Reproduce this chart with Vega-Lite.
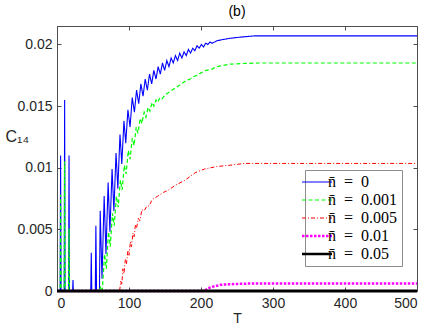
{
  "$schema": "https://vega.github.io/schema/vega-lite/v6.json",
  "width": 360,
  "height": 265,
  "autosize": {"type": "none"},
  "padding": {"left": 57, "top": 26, "right": 19, "bottom": 37},
  "background": "white",
  "title": {"text": "(b)", "fontSize": 14, "font": "Liberation Sans", "fontWeight": "normal", "offset": 7, "color": "#000000"},
  "config": {
    "view": {"stroke": "#4d4d4d", "strokeWidth": 1},
    "font": "Liberation Sans"
  },
  "data": {"values": [
    {"n":"0","T":0,"C":0},{"n":"0","T":4.4,"C":0},{"n":"0","T":5,"C":0.011},{"n":"0","T":5.6,"C":0},
    {"n":"0","T":10,"C":0},{"n":"0","T":10.6,"C":0.0155},{"n":"0","T":11.2,"C":0},
    {"n":"0","T":16.1,"C":0},{"n":"0","T":16.7,"C":0.011},{"n":"0","T":17.3,"C":0},
    {"n":"0","T":21.7,"C":0},{"n":"0","T":22.2,"C":0.0009},{"n":"0","T":22.7,"C":0},
    {"n":"0","T":46.9,"C":0},{"n":"0","T":47.6,"C":0.0031},{"n":"0","T":48.3,"C":0},
    {"n":"0","T":53.2,"C":0},{"n":"0","T":54,"C":0.0053},{"n":"0","T":54.9,"C":0},
    {"n":"0","T":59,"C":0},{"n":"0","T":60,"C":0.0065},{"n":"0","T":62.5,"C":0.001},
    {"n":"0","T":65.5,"C":0.0077},{"n":"0","T":68,"C":0.003},
    {"n":"0","T":71,"C":0.0088},{"n":"0","T":73.5,"C":0.0048},
    {"n":"0","T":76.5,"C":0.0099},{"n":"0","T":79,"C":0.0065},
    {"n":"0","T":82,"C":0.0112},{"n":"0","T":84.5,"C":0.0083},
    {"n":"0","T":87.5,"C":0.0127},{"n":"0","T":90,"C":0.0103},
    {"n":"0","T":93,"C":0.0138},{"n":"0","T":95.5,"C":0.012},
    {"n":"0","T":98.5,"C":0.0147},{"n":"0","T":101.5,"C":0.0133},
    {"n":"0","T":104.5,"C":0.0157},{"n":"0","T":107.5,"C":0.0145},
    {"n":"0","T":110.5,"C":0.0163},{"n":"0","T":113.5,"C":0.0152},
    {"n":"0","T":116.5,"C":0.0168},{"n":"0","T":119.5,"C":0.0158},
    {"n":"0","T":122.5,"C":0.0172},{"n":"0","T":125.5,"C":0.0163},
    {"n":"0","T":128.5,"C":0.0176},{"n":"0","T":131.5,"C":0.0168},
    {"n":"0","T":134.5,"C":0.0179},{"n":"0","T":137.5,"C":0.0172},
    {"n":"0","T":140.5,"C":0.0182},{"n":"0","T":143.5,"C":0.0176},
    {"n":"0","T":146.5,"C":0.0185},{"n":"0","T":149.5,"C":0.0179},
    {"n":"0","T":152.5,"C":0.0187},{"n":"0","T":155.5,"C":0.0182},
    {"n":"0","T":158.5,"C":0.0189},{"n":"0","T":161.5,"C":0.0185},
    {"n":"0","T":164.5,"C":0.0191},{"n":"0","T":167.5,"C":0.0187},
    {"n":"0","T":170.5,"C":0.0193},{"n":"0","T":173.5,"C":0.0189},
    {"n":"0","T":176.5,"C":0.0194},{"n":"0","T":179.5,"C":0.0191},
    {"n":"0","T":182.5,"C":0.0196},{"n":"0","T":185.5,"C":0.0193},
    {"n":"0","T":188.5,"C":0.0197},{"n":"0","T":191.5,"C":0.0195},
    {"n":"0","T":194.5,"C":0.0199},{"n":"0","T":197.5,"C":0.0197},
    {"n":"0","T":200.5,"C":0.02},{"n":"0","T":203.5,"C":0.0198},
    {"n":"0","T":206.5,"C":0.0201},{"n":"0","T":209.5,"C":0.02},
    {"n":"0","T":212.5,"C":0.0202},{"n":"0","T":215.5,"C":0.0201},
    {"n":"0","T":222,"C":0.0203},{"n":"0","T":230,"C":0.0204},{"n":"0","T":240,"C":0.0205},
    {"n":"0","T":255,"C":0.0206},{"n":"0","T":275,"C":0.0207},{"n":"0","T":500,"C":0.0207},

    {"n":"0.001","T":0,"C":0},{"n":"0.001","T":4.4,"C":0},{"n":"0.001","T":5,"C":0.0078},{"n":"0.001","T":5.6,"C":0},
    {"n":"0.001","T":10,"C":0},{"n":"0.001","T":10.6,"C":0.0105},{"n":"0.001","T":11.2,"C":0},
    {"n":"0.001","T":16.1,"C":0},{"n":"0.001","T":16.7,"C":0.0051},{"n":"0.001","T":17.3,"C":0},
    {"n":"0.001","T":59,"C":0},{"n":"0.001","T":61,"C":0.0004},{"n":"0.001","T":63,"C":0.0001},
    {"n":"0.001","T":66,"C":0.003},{"n":"0.001","T":68.5,"C":0.0018},
    {"n":"0.001","T":71.5,"C":0.0048},{"n":"0.001","T":74,"C":0.0036},
    {"n":"0.001","T":77,"C":0.0063},{"n":"0.001","T":79.5,"C":0.0053},
    {"n":"0.001","T":82.5,"C":0.0077},{"n":"0.001","T":85,"C":0.0068},
    {"n":"0.001","T":88,"C":0.009},{"n":"0.001","T":90.5,"C":0.0082},
    {"n":"0.001","T":93.5,"C":0.0102},{"n":"0.001","T":96,"C":0.0095},
    {"n":"0.001","T":99,"C":0.0114},{"n":"0.001","T":101.5,"C":0.0107},
    {"n":"0.001","T":104.5,"C":0.0124},{"n":"0.001","T":107,"C":0.0118},
    {"n":"0.001","T":110,"C":0.0133},{"n":"0.001","T":112.5,"C":0.0128},
    {"n":"0.001","T":115.5,"C":0.014},{"n":"0.001","T":118,"C":0.0136},
    {"n":"0.001","T":121,"C":0.0145},{"n":"0.001","T":123.5,"C":0.0141},
    {"n":"0.001","T":126.5,"C":0.0149},{"n":"0.001","T":129,"C":0.0146},
    {"n":"0.001","T":132,"C":0.0153},{"n":"0.001","T":134.5,"C":0.015},
    {"n":"0.001","T":137.5,"C":0.0155},{"n":"0.001","T":140,"C":0.0153},
    {"n":"0.001","T":143,"C":0.0157},{"n":"0.001","T":146,"C":0.0156},
    {"n":"0.001","T":150,"C":0.0159},{"n":"0.001","T":155,"C":0.0161},{"n":"0.001","T":160,"C":0.0163},
    {"n":"0.001","T":165,"C":0.0165},{"n":"0.001","T":170,"C":0.0167},{"n":"0.001","T":175,"C":0.0169},
    {"n":"0.001","T":180,"C":0.0171},{"n":"0.001","T":185,"C":0.0172},{"n":"0.001","T":190,"C":0.0174},
    {"n":"0.001","T":195,"C":0.0175},{"n":"0.001","T":200,"C":0.0177},{"n":"0.001","T":207,"C":0.0179},
    {"n":"0.001","T":215,"C":0.018},{"n":"0.001","T":222,"C":0.0182},{"n":"0.001","T":231,"C":0.0183},
    {"n":"0.001","T":240,"C":0.0184},{"n":"0.001","T":255,"C":0.01845},{"n":"0.001","T":280,"C":0.0185},
    {"n":"0.001","T":500,"C":0.0185},

    {"n":"0.005","T":0,"C":0},{"n":"0.005","T":87,"C":0},{"n":"0.005","T":88.5,"C":0.0008},{"n":"0.005","T":90,"C":0.0005},
    {"n":"0.005","T":91.5,"C":0.0018},{"n":"0.005","T":93,"C":0.0014},{"n":"0.005","T":95,"C":0.0026},
    {"n":"0.005","T":96.5,"C":0.0022},{"n":"0.005","T":98.5,"C":0.0033},{"n":"0.005","T":100,"C":0.0029},
    {"n":"0.005","T":102,"C":0.004},{"n":"0.005","T":103.5,"C":0.0036},{"n":"0.005","T":105.5,"C":0.0047},
    {"n":"0.005","T":107,"C":0.0044},{"n":"0.005","T":109,"C":0.0054},{"n":"0.005","T":110.5,"C":0.0051},
    {"n":"0.005","T":113,"C":0.0059},{"n":"0.005","T":115,"C":0.0057},{"n":"0.005","T":118,"C":0.0066},
    {"n":"0.005","T":121,"C":0.0065},{"n":"0.005","T":125,"C":0.0069},{"n":"0.005","T":128,"C":0.0069},
    {"n":"0.005","T":132,"C":0.0074},{"n":"0.005","T":140,"C":0.0077},{"n":"0.005","T":148,"C":0.008},
    {"n":"0.005","T":155,"C":0.0082},{"n":"0.005","T":165,"C":0.0086},{"n":"0.005","T":178,"C":0.009},
    {"n":"0.005","T":192,"C":0.0096},{"n":"0.005","T":205,"C":0.0099},{"n":"0.005","T":222,"C":0.0101},
    {"n":"0.005","T":240,"C":0.0102},{"n":"0.005","T":260,"C":0.01035},{"n":"0.005","T":500,"C":0.01035},

    {"n":"0.01","T":0,"C":0},{"n":"0.01","T":203,"C":0},{"n":"0.01","T":207,"C":0.0001},{"n":"0.01","T":213,"C":0.0003},
    {"n":"0.01","T":220,"C":0.0004},{"n":"0.01","T":227,"C":0.0005},{"n":"0.01","T":240,"C":0.00055},
    {"n":"0.01","T":264,"C":0.0006},{"n":"0.01","T":500,"C":0.0006},

    {"n":"0.05","T":0,"C":0},{"n":"0.05","T":500,"C":0}
  ]},
  "layer": [
    {
      "transform": [{"filter": "datum.n == '0'"}],
      "mark": {"type": "line", "strokeWidth": 1.1, "clip": false},
      "encoding": {
        "x": {"field": "T", "type": "quantitative", "scale": {"domain": [0, 500], "nice": false},
          "axis": {"orient": "bottom", "values": [0, 100, 200, 300, 400, 500], "grid": false, "domain": false,
            "tickSize": -4, "tickColor": "#4d4d4d", "labelFontSize": 14, "labelColor": "#262626", "labelPadding": 9,
            "title": "T", "titleFontSize": 14, "titleFontWeight": "normal", "titleColor": "#262626", "titlePadding": 1}},
        "y": {"field": "C", "type": "quantitative", "scale": {"domain": [0, 0.0215], "nice": false},
          "axis": {"orient": "left", "values": [0, 0.005, 0.01, 0.015, 0.02], "format": "~g", "grid": false, "domain": false,
            "tickSize": -4, "tickColor": "#4d4d4d", "labelFontSize": 14, "labelColor": "#262626", "labelPadding": 9,
            "title": "C₁₄", "titleAngle": 0, "titleAlign": "left", "titleBaseline": "alphabetic", "titleX": -52, "titleY": 115,
            "titleFontSize": 16, "titleFontWeight": "normal", "titleColor": "#262626"}},
        "color": {"field": "n", "type": "nominal",
          "scale": {"domain": ["0", "0.001", "0.005", "0.01", "0.05"], "range": ["#0000ff", "#00ff00", "#ff0000", "#ff00ff", "#000000"]},
          "legend": {"orient": "none", "legendX": 248, "legendY": 144, "title": null, "symbolType": "stroke", "symbolSize": 900,
            "labelFont": "Liberation Serif", "labelFontSize": 16, "labelColor": "#000000", "labelExpr": "'n̄\u2002=\u2002' + datum.label",
            "strokeColor": "#8c8c8c", "fillColor": "white", "padding": 4, "rowPadding": 2, "labelOffset": 3,
            "encode": {"symbols": {"update": {"strokeWidth": {"signal": "datum.value == '0.01' || datum.value == '0.05' ? 2.5 : 1.2"}}}}}},
        "strokeDash": {"field": "n", "type": "nominal",
          "scale": {"domain": ["0", "0.001", "0.005", "0.01", "0.05"], "range": [[1, 0], [4, 2.5], [4, 2, 1, 2], [2.5, 1.5], [1, 0]]}}
      }
    },
    {
      "transform": [{"filter": "datum.n == '0.001'"}],
      "mark": {"type": "line", "strokeWidth": 1.2, "clip": false},
      "encoding": {
        "x": {"field": "T", "type": "quantitative", "axis": null},
        "y": {"field": "C", "type": "quantitative", "axis": null},
        "color": {"field": "n", "type": "nominal"},
        "strokeDash": {"field": "n", "type": "nominal"}
      }
    },
    {
      "transform": [{"filter": "datum.n == '0.005'"}],
      "mark": {"type": "line", "strokeWidth": 1, "clip": false},
      "encoding": {
        "x": {"field": "T", "type": "quantitative", "axis": null},
        "y": {"field": "C", "type": "quantitative", "axis": null},
        "color": {"field": "n", "type": "nominal"},
        "strokeDash": {"field": "n", "type": "nominal"}
      }
    },
    {
      "transform": [{"filter": "datum.n == '0.01'"}],
      "mark": {"type": "line", "strokeWidth": 2.5, "clip": false},
      "encoding": {
        "x": {"field": "T", "type": "quantitative", "axis": null},
        "y": {"field": "C", "type": "quantitative", "axis": null},
        "color": {"field": "n", "type": "nominal"},
        "strokeDash": {"field": "n", "type": "nominal"}
      }
    },
    {
      "transform": [{"filter": "datum.n == '0.05'"}],
      "mark": {"type": "line", "strokeWidth": 3, "clip": false},
      "encoding": {
        "x": {"field": "T", "type": "quantitative", "axis": null},
        "y": {"field": "C", "type": "quantitative", "axis": null},
        "color": {"field": "n", "type": "nominal"},
        "strokeDash": {"field": "n", "type": "nominal"}
      }
    },
    {
      "transform": [{"filter": "datum.n == '0.05'"}],
      "mark": {"type": "point", "opacity": 0},
      "encoding": {
        "x": {"field": "T", "type": "quantitative",
          "axis": {"orient": "top", "values": [0, 100, 200, 300, 400, 500], "labels": false, "grid": false, "domain": false,
            "tickSize": -4, "tickColor": "#4d4d4d", "title": null}},
        "y": {"field": "C", "type": "quantitative",
          "axis": {"orient": "right", "values": [0, 0.005, 0.01, 0.015, 0.02], "labels": false, "grid": false, "domain": false,
            "tickSize": -4, "tickColor": "#4d4d4d", "title": null}}
      }
    }
  ],
  "resolve": {"axis": {"x": "independent", "y": "independent"}}
}
